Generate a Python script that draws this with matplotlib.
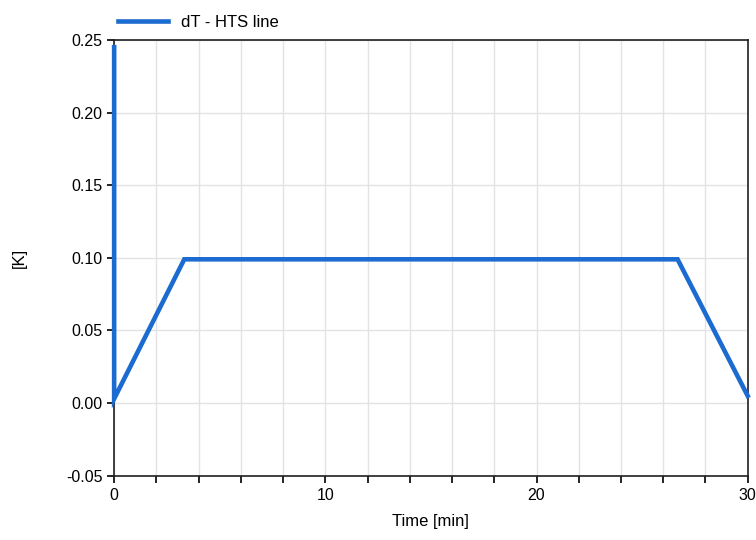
import numpy as np
import matplotlib
matplotlib.use("Agg")
import matplotlib.pyplot as plt

plt.rcParams["font.family"] = ["Liberation Sans", "DejaVu Sans"]

# dT - HTS line
time_min = [0.0, 0.0, 0.0, 3.32, 26.68, 30.0]
dT_K = [0.245, 0.10, 0.003, 0.099, 0.099, 0.005]

XTICKS = [0, 10, 20, 30]
YTICKS = [-0.05, 0.00, 0.05, 0.10, 0.15, 0.20, 0.25]
BLUE = "#1c6bd0"

fig = plt.figure(figsize=(7.56, 5.4), dpi=100)
ax = fig.add_axes([0.151, 0.119, 0.838, 0.807])
ax.plot(time_min, dT_K, color=BLUE, lw=3.3, solid_joinstyle="miter",
        clip_on=False, zorder=5, label="dT - HTS line")

ax.set_xlim(0, 30)
ax.set_ylim(-0.05, 0.25)
ax.set_xticks(XTICKS)
ax.set_xticks(np.arange(0, 31, 2), minor=True)
ax.set_yticks(YTICKS)
ax.set_yticklabels([f"{v:.2f}" for v in YTICKS])
ax.grid(True, which="both", color="#e3e3e3", lw=1.0)
ax.set_axisbelow(True)
ax.tick_params(which="both", direction="out", length=5, width=1.2, colors="black", labelsize=11.5)
for s in ax.spines.values():
    s.set_linewidth(1.2)
    s.set_color("#202020")

ax.set_xlabel("Time [min]", fontsize=12, labelpad=8)
ax.set_ylabel("[K]", fontsize=12, labelpad=28)
ax.legend(loc="lower left", bbox_to_anchor=(-0.01, 1.0), frameon=False, fontsize=12,
          handlelength=3.0, borderaxespad=0.2)

plt.savefig("out.png", dpi=100)
